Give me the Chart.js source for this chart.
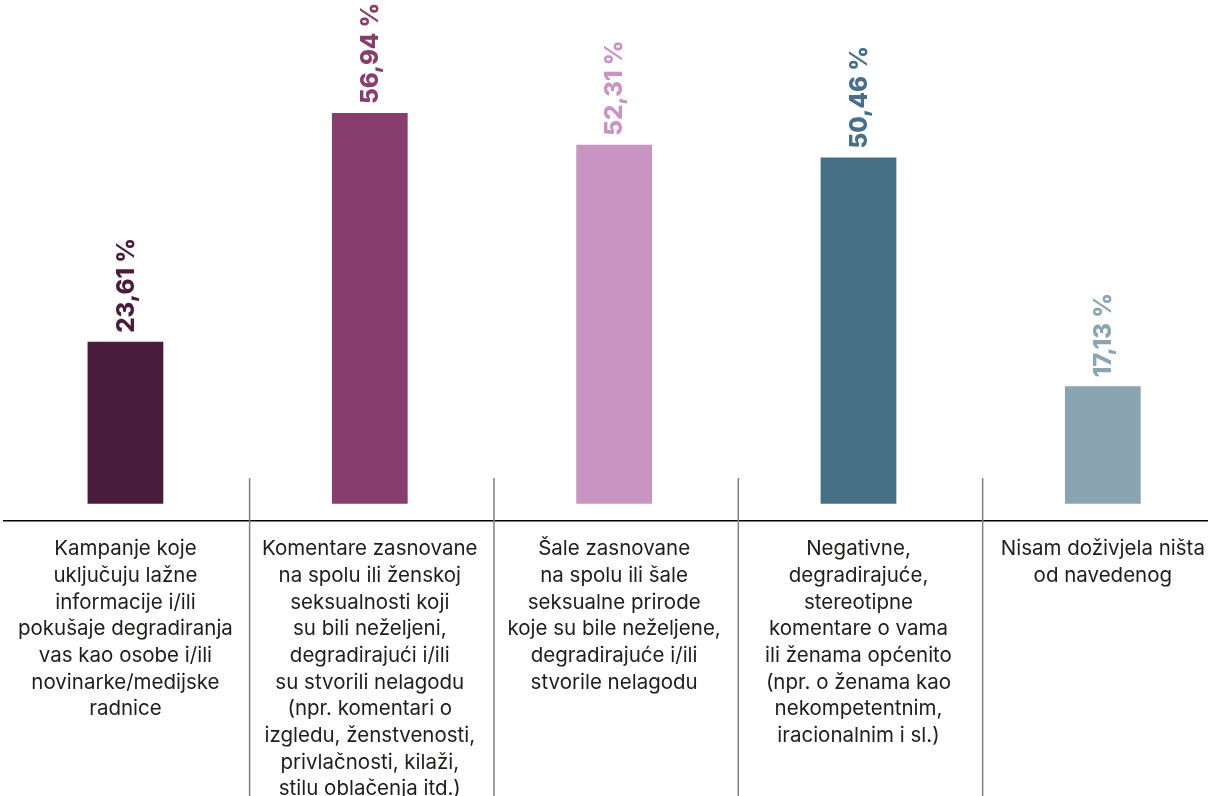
<!DOCTYPE html>
<html>
<head>
<meta charset="utf-8">
<script src="https://cdn.jsdelivr.net/npm/chart.js@4"></script>
<style>
    html, body { margin: 0; padding: 0; background: #fff; overflow: hidden; }
    #wrap { position: absolute; left: 3px; top: 0; width: 1222px; height: 796px; }
</style>
</head>
<body>
<div id="wrap"><canvas id="chart"></canvas></div>
<script>
// Kategorije (višeredne oznake ispod osi)
const categories = [
    ['Kampanje koje', 'uključuju lažne', 'informacije i/ili', 'pokušaje degradiranja', 'vas kao osobe i/ili', 'novinarke/medijske', 'radnice'],
    ['Komentare zasnovane', 'na spolu ili ženskoj', 'seksualnosti koji', 'su bili neželjeni,', 'degradirajući i/ili', 'su stvorili nelagodu', '(npr. komentari o', 'izgledu, ženstvenosti,', 'privlačnosti, kilaži,', 'stilu oblačenja itd.)'],
    ['Šale zasnovane', 'na spolu ili šale', 'seksualne prirode', 'koje su bile neželjene,', 'degradirajuće i/ili', 'stvorile nelagodu'],
    ['Negativne,', 'degradirajuće,', 'stereotipne', 'komentare o vama', 'ili ženama općenito', '(npr. o ženama kao', 'nekompetentnim,', 'iracionalnim i sl.)'],
    ['Nisam doživjela ništa', 'od navedenog']
];

const values = [23.61, 56.94, 52.31, 50.46, 17.13];
const valueLabels = ['23,61 %', '56,94 %', '52,31 %', '50,46 %', '17,13 %'];
const barColors = ['#4a1c3c', '#873d6d', '#c894c2', '#476f86', '#8aa5b1'];

// Okomite crte između kategorija
const separatorPlugin = {
    id: 'separators',
    afterDraw(chart) {
        const x = chart.scales.x;
        const ctx = chart.ctx;
        const top = chart.chartArea.bottom - 43;
        ctx.save();
        ctx.strokeStyle = '#808080';
        ctx.lineWidth = 1.5;
        for (let i = 0; i < values.length - 1; i++) {
            const px = (x.getPixelForTick(i) + x.getPixelForTick(i + 1)) / 2 + 2;
            ctx.beginPath();
            ctx.moveTo(px, top);
            ctx.lineTo(px, chart.height);
            ctx.stroke();
        }
        ctx.restore();
    }
};

// Okrenute vrijednosti iznad stupaca
const valueLabelPlugin = {
    id: 'valueLabels',
    afterDatasetsDraw(chart) {
        const ctx = chart.ctx;
        const meta = chart.getDatasetMeta(0);
        ctx.save();
        ctx.font = '800 24px Inter, "Noto Sans", sans-serif';
        ctx.textAlign = 'left';
        ctx.textBaseline = 'middle';
        meta.data.forEach((bar, i) => {
            ctx.save();
            ctx.translate(bar.x + 1, bar.y - 9);
            ctx.rotate(-Math.PI / 2);
            ctx.fillStyle = barColors[i];
            ctx.fillText(valueLabels[i], 0, 0);
            ctx.restore();
        });
        ctx.restore();
    }
};

new Chart(document.getElementById('chart'), {
    type: 'bar',
    data: {
        labels: categories,
        datasets: [{
            data: values,
            backgroundColor: barColors,
            categoryPercentage: 1,
            barPercentage: 0.31
        }]
    },
    options: {
        responsive: true,
        maintainAspectRatio: false,
        animation: false,
        layout: { padding: 0 },
        plugins: {
            legend: { display: false },
            tooltip: { enabled: false }
        },
        scales: {
            x: {
                offset: true,
                grid: { display: false, drawTicks: false },
                border: { display: true, color: '#000', width: 1.5 },
                ticks: {
                    autoSkip: false,
                    maxRotation: 0,
                    padding: 15,
                    color: '#1d1d1b',
                    font: { family: 'Inter, "Noto Sans", sans-serif', size: 20.5, lineHeight: 1.3 }
                },
                afterFit(scale) { scale.height = 275; }
            },
            y: {
                display: false,
                min: -2.5,
                max: 73.4
            }
        }
    },
    plugins: [separatorPlugin, valueLabelPlugin]
});
</script>
</body>
</html>
